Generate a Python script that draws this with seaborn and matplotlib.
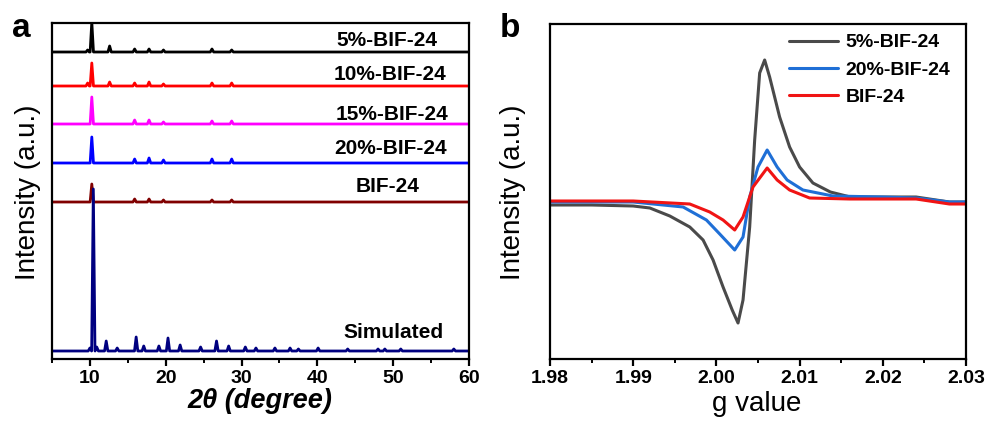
import numpy as np
import pandas as pd
import matplotlib
matplotlib.use("Agg")
import matplotlib.pyplot as plt
from matplotlib.ticker import MultipleLocator
import seaborn as sns

# ---------------- data ----------------
# Panel a: PXRD patterns, peak positions (2theta, deg) and heights (a.u.)
xrd_names = ["5%-BIF-24", "10%-BIF-24", "15%-BIF-24", "20%-BIF-24", "BIF-24", "Simulated"]
xrd_colors = ["#000000", "#ff0000", "#ff00ff", "#0000ff", "#800000", "#000080"]

p5_pos = [9.7, 10.25, 12.6, 15.9, 17.8, 19.7, 26.1, 28.7]
p5_h = [2, 30, 6, 3, 3, 2, 3, 2]
p10_pos = [9.7, 10.25, 12.6, 15.9, 17.8, 19.7, 26.1, 28.7]
p10_h = [3, 23, 4, 3, 4, 2, 3, 3]
p15_pos = [10.25, 15.9, 17.8, 19.7, 26.1, 28.7]
p15_h = [27, 4, 4, 2, 3, 3]
p20_pos = [10.25, 15.9, 17.8, 19.7, 26.1, 28.7]
p20_h = [26, 4, 5, 3, 4, 4]
pbif_pos = [10.25, 15.9, 17.8, 19.7, 26.1, 28.7]
pbif_h = [18, 3, 3, 2, 2, 2]
psim_pos = [10.0, 10.45, 10.9, 12.15, 13.6, 16.1, 17.1, 19.1, 20.3, 21.9, 24.6, 26.7, 28.3,
            30.5, 31.9, 34.4, 36.4, 37.5, 40.1, 44.0, 48.0, 48.9, 51.0, 58.0]
psim_h = [3, 162, 4, 10, 3, 14, 5, 5, 13, 6, 4, 10, 5,
          4, 3, 3, 3, 2, 3, 2, 2, 2, 2, 2]
xrd_peaks = [(p5_pos, p5_h), (p10_pos, p10_h), (p15_pos, p15_h),
             (p20_pos, p20_h), (pbif_pos, pbif_h), (psim_pos, psim_h)]

# Panel b: EPR spectra (g value, intensity a.u.)
epr_names = ["5%-BIF-24", "20%-BIF-24", "BIF-24"]
epr_colors = ["#4a4a4a", "#1f6fd6", "#f01414"]
g5 = [1.980, 1.985, 1.990, 1.992, 1.9944, 1.9968, 1.9984, 1.9996, 2.0008, 2.0019, 2.0026,
      2.0032, 2.0040, 2.0046, 2.0052, 2.0058, 2.0064, 2.0076, 2.0088, 2.0100, 2.0116,
      2.0137, 2.0161, 2.0200, 2.0240, 2.0280, 2.0300]
i5 = [-3, -3, -4, -6, -14, -25, -38, -58, -85, -108, -121,
      -98, -25, 62, 129, 142, 125, 85, 55, 35, 19,
      10, 5, 5, 5, 0, 0]
g20 = [1.980, 1.990, 1.996, 1.9988, 2.0004, 2.0022, 2.0032, 2.0040, 2.0050, 2.0061,
       2.0073, 2.0085, 2.0104, 2.0140, 2.0200, 2.0240, 2.0280, 2.0300]
i20 = [0, 0, -5, -18, -32, -48, -35, 5, 35, 52,
       35, 22, 12, 6, 5, 4, 0, 0]
gb = [1.980, 1.990, 1.9968, 1.9992, 2.0008, 2.0022, 2.0032, 2.0044, 2.0061, 2.0073,
      2.0088, 2.0112, 2.0160, 2.0200, 2.0240, 2.0280, 2.0300]
ib = [1, 1, -2, -10, -18, -28, -15, 15, 34, 22,
      12, 4, 3, 3, 3, -2, -2]
epr_data = [(g5, i5), (g20, i20), (gb, ib)]

xrd_xticks = [10, 20, 30, 40, 50, 60]
epr_xticks = [1.98, 1.99, 2.00, 2.01, 2.02, 2.03]

# ---------------- style ----------------
sns.set_theme(style="ticks")
plt.rcParams["font.family"] = ["Liberation Sans", "DejaVu Sans"]
plt.rcParams["axes.linewidth"] = 1.6
plt.rcParams["text.color"] = "black"
plt.rcParams["axes.labelcolor"] = "black"
plt.rcParams["xtick.color"] = "black"
plt.rcParams["ytick.color"] = "black"

fig = plt.figure(figsize=(9.92, 4.21), dpi=100)
axa = fig.add_axes([52 / 992, 62 / 421, 417 / 992, 336 / 421])
axb = fig.add_axes([550 / 992, 62 / 421, 416 / 992, 335 / 421])


def stick_profile(pos, h, lo=5.0, hi=60.0, hw=0.22):
    xs, ys = [lo], [0.0]
    for p, v in zip(pos, h):
        xs += [p - hw, p, p + hw]
        ys += [0.0, v, 0.0]
    xs.append(hi)
    ys.append(0.0)
    return xs, ys


# ---------------- panel a ----------------
offsets = [307, 273, 235, 196, 157, 8]
label_pos = [(49.2, 319), (49.6, 284), (49.9, 244), (49.7, 211), (49.3, 172), (50.1, 26)]
for (pos, h), name, col, off, (tx, ty) in zip(xrd_peaks, xrd_names, xrd_colors, offsets, label_pos):
    xs, ys = stick_profile(pos, h)
    df = pd.DataFrame({"x": xs, "y": np.array(ys) + off})
    sns.lineplot(data=df, x="x", y="y", ax=axa, color=col, lw=2.0,
                 estimator=None, sort=False)
    axa.text(tx, ty, name, ha="center", va="center", fontsize=15, fontweight="bold",
             color="black")

axa.set_xlim(5, 60)
axa.set_ylim(0, 336)
axa.set_xticks(xrd_xticks)
axa.xaxis.set_minor_locator(MultipleLocator(5))
axa.set_yticks([])
axa.set_xlabel("2θ (degree)", fontsize=19.5, fontweight="bold", fontstyle="italic")
axa.set_ylabel("Intensity (a.u.)", fontsize=20)
axa.xaxis.set_label_coords(0.499, -0.124)
axa.xaxis.label.set_va("center")
axa.yaxis.set_label_coords(-0.0576, 0.497)
axa.yaxis.label.set_va("center")

# ---------------- panel b ----------------
for (g, inten), name, col in zip(epr_data, epr_names, epr_colors):
    df = pd.DataFrame({"g": g, "I": inten})
    sns.lineplot(data=df, x="g", y="I", ax=axb, color=col, lw=2.2,
                 estimator=None, sort=False, label=name)

axb.set_xlim(1.98, 2.03)
axb.set_ylim(-157, 178)
axb.set_xticks(epr_xticks)
axb.set_xticklabels([f"{v:.2f}" for v in epr_xticks])
axb.xaxis.set_minor_locator(MultipleLocator(0.005))
axb.set_yticks([])
axb.set_xlabel("g value", fontsize=20)
axb.set_ylabel("Intensity (a.u.)", fontsize=20)
axb.xaxis.set_label_coords(0.498, -0.133)
axb.xaxis.label.set_va("center")
axb.yaxis.set_label_coords(-0.089, 0.497)
axb.yaxis.label.set_va("center")
leg = axb.legend(loc="upper right", frameon=False, handlelength=2.5,
                 handletextpad=0.4, labelspacing=0.5, borderaxespad=0.1,
                 bbox_to_anchor=(0.985, 1.0), prop={"weight": "bold", "size": 14})
for t in leg.get_texts():
    t.set_color("black")

for ax in (axa, axb):
    for s in ax.spines.values():
        s.set_visible(True)
        s.set_linewidth(1.6)
        s.set_color("black")
    ax.tick_params(axis="x", which="major", direction="out", length=5, width=1.6,
                   labelsize=14, pad=3, colors="black")
    ax.tick_params(axis="x", which="minor", direction="out", length=3, width=1.4,
                   colors="black")
    for lab in ax.get_xticklabels():
        lab.set_fontweight("bold")
    ax.set_facecolor("white")

fig.text(12 / 992, 1 - 37 / 421, "a", fontsize=24, fontweight="bold", va="baseline")
fig.text(500 / 992, 1 - 37 / 421, "b", fontsize=24, fontweight="bold", va="baseline")

fig.savefig("out.png", dpi=100, facecolor="white")
